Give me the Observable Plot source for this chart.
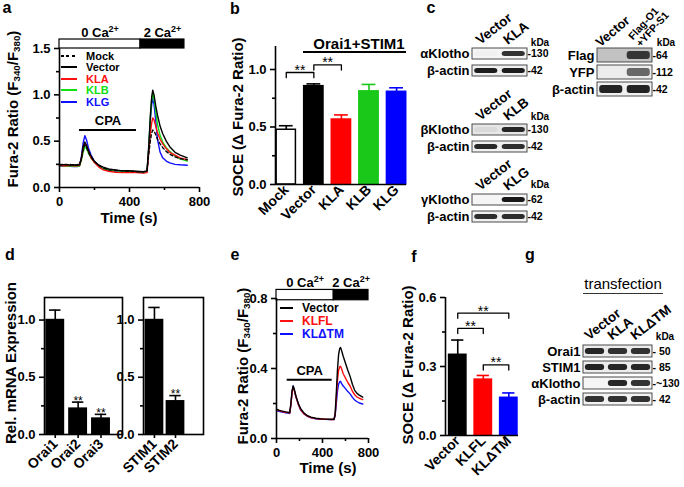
<!DOCTYPE html>
<html>
<head>
<meta charset="utf-8">
<script src="https://cdn.jsdelivr.net/npm/d3@7"></script>
<script src="https://cdn.jsdelivr.net/npm/@observablehq/plot@0.6"></script>
<style>
html,body{margin:0;padding:0;background:#fff;}
#root{position:relative;width:684px;height:487px;overflow:hidden;background:#fff;font-family:"Liberation Sans",Arial,Helvetica,sans-serif;color:#000;}
#root sub{font-size:65%;vertical-align:-0.3em;line-height:0;}
#root sup{font-size:65%;vertical-align:0.55em;line-height:0;}
</style>
</head>
<body>
<div id="root"></div>
<script>
// ---------------- DATA ----------------
// Panel a: Fura-2 traces
const timeA = [0,20,40,60,80,100,115,125,135,145,155,165,180,200,225,250,280,320,360,400,440,480,500,510,520,527,533,540,550,560,575,590,610,630,660,690,730];
const mockA   = [.24,.25,.245,.25,.24,.245,.25,.31,.41,.46,.43,.38,.33,.28,.24,.21,.19,.185,.18,.175,.17,.17,.18,.36,.52,.59,.62,.61,.57,.52,.47,.43,.39,.36,.33,.31,.30];
const vectorA = [.25,.245,.25,.24,.245,.24,.245,.32,.44,.49,.45,.40,.34,.28,.24,.22,.20,.19,.18,.18,.175,.17,.18,.45,.80,.98,1.05,1.0,.88,.78,.66,.58,.50,.44,.38,.35,.32];
const klaA    = [.24,.235,.235,.24,.235,.235,.24,.31,.42,.48,.45,.39,.32,.27,.22,.19,.175,.165,.16,.16,.16,.155,.16,.38,.60,.70,.75,.73,.66,.59,.52,.47,.42,.38,.35,.32,.30];
const klbA    = [.235,.235,.23,.235,.23,.23,.235,.29,.38,.44,.42,.37,.32,.27,.23,.20,.19,.18,.175,.17,.17,.165,.17,.42,.78,.95,1.01,.96,.82,.68,.56,.49,.43,.39,.34,.31,.285];
const klgA    = [.235,.23,.23,.23,.225,.225,.235,.33,.48,.56,.51,.43,.35,.28,.23,.20,.185,.175,.17,.165,.165,.16,.17,.42,.75,.90,.96,.90,.72,.52,.38,.32,.285,.265,.25,.245,.24];
const seriesA = ["Mock","Vector","KLA","KLB","KLG"];
const colorsA = ["#000000","#000000","#ff1010","#10e010","#1010ff"];
const caBarA = [{label:"0 Ca^2+", start:0, end:463, fill:"#ffffff"},{label:"2 Ca^2+", start:463, end:714, fill:"#000000"}];
const cpaA = [{label:"CPA", start:114, end:440, level:0.62}];

// Panel b: SOCE
const catsB = ["Mock","Vector","KLA","KLB","KLG"];
const meansB = [0.476,0.855,0.565,0.81,0.806];
const errsB = [0.035,0.02,0.04,0.06,0.035];
const fillsB = ["#ffffff","#000000","#ff0000","#19c819","#0000ff"];
const strokesB = ["#000000","#000000","#ff0000","#19c819","#0000ff"];
const bracketsB = [{a:0,b:1,y:0.974},{a:1,b:2,y:1.04}];

// Panel c: western blots (band intensity per lane)
const blotC1 = {lanes:["Vector","KLA"], rows:[{label:"αKlotho", marker:"-130", bg:"#f5f5f5", bands:[0.02,0.85]},{label:"β-actin", marker:"-42", bg:"#f0f0f0", bands:[0.95,0.95]}]};
const blotC2 = {lanes:["Vector","KLB"], rows:[{label:"βKlotho", marker:"-130", bg:"#e6e6e6", bands:[0.06,0.9]},{label:"β-actin", marker:"-42", bg:"#f0f0f0", bands:[0.9,0.88]}]};
const blotC3 = {lanes:["Vector","KLG"], rows:[{label:"γKlotho", marker:"-62", bg:"#f5f5f5", bands:[0,0.97]},{label:"β-actin", marker:"-42", bg:"#f0f0f0", bands:[0.88,0.88]}]};
const blotC4 = {lanes:["Vector","Flag-O1\n+YFP-S1"], rows:[{label:"Flag", marker:"-64", bg:"#c2c2c2", bands:[0,0.8]},{label:"YFP", marker:"-112", bg:"#ececec", bands:[0,0.6]},{label:"β-actin", marker:"-42", bg:"#f0f0f0", bands:[0.92,0.92]}]};

// Panel d: mRNA
const catsD1 = ["Orai1","Orai2","Orai3"];
const meansD1 = [1.0,0.226,0.139];
const errsD1 = [0.087,0.057,0.037];
const catsD2 = ["STIM1","STIM2"];
const meansD2 = [1.0,0.29];
const errsD2 = [0.11,0.05];
const starsD1 = ["","**","**"];
const starsD2 = ["","**"];

// Panel e: traces
const timeE = [0,20,40,60,80,100,115,125,135,145,155,170,190,210,240,270,300,340,380,420,460,500,510,520,530,540,550,557,565,580,600,620,640,660,680,700,720,750];
const vectorE = [.168,.162,.158,.155,.152,.150,.148,.20,.27,.30,.28,.24,.20,.17,.145,.13,.122,.116,.113,.111,.110,.110,.14,.26,.39,.48,.515,.52,.505,.47,.43,.39,.355,.31,.275,.258,.248,.236];
const klflE   = [.165,.16,.156,.153,.15,.148,.146,.19,.26,.295,.275,.235,.195,.165,.14,.127,.12,.114,.111,.11,.109,.109,.135,.23,.33,.39,.41,.413,.40,.37,.345,.32,.30,.27,.25,.237,.23,.222];
const kltmE   = [.16,.155,.152,.15,.147,.145,.143,.19,.265,.30,.275,.235,.195,.163,.14,.126,.118,.113,.11,.109,.108,.108,.13,.20,.27,.31,.325,.327,.315,.30,.285,.268,.255,.235,.22,.21,.203,.197];
const seriesE = ["Vector","KLFL","KLΔTM"];
const colorsE = ["#000000","#ff1010","#1010ff"];
const caBarE = [{label:"0 Ca^2+", start:0, end:498, fill:"#ffffff"},{label:"2 Ca^2+", start:498, end:800, fill:"#000000"}];
const cpaE = [{label:"CPA", start:93, end:484, level:0.336}];

// Panel f: SOCE
const catsF = ["Vector","KLFL","KLΔTM"];
const meansF = [0.351,0.243,0.164];
const errsF = [0.064,0.018,0.021];
const fillsF = ["#000000","#ff0000","#0000ff"];
const bracketsF = [{a:0,b:2,y:0.532},{a:0,b:1,y:0.466},{a:1,b:2,y:0.307}];

// Panel g: blot
const blotG = {lanes:["Vector","KLA","KLΔTM"], rows:[{label:"Orai1", marker:"- 50", bg:"#ececec", bands:[0.9,0.85,0.85]},{label:"STIM1", marker:"- 85", bg:"#ececec", bands:[0.92,0.9,0.9]},{label:"αKlotho", marker:"-~130", bg:"#f5f5f5", bands:[0,0.9,0.85]},{label:"β-actin", marker:"- 42", bg:"#f2f2f2", bands:[0.85,0.85,0.85]}]};

// ---------------- HELPERS ----------------
const root = document.getElementById("root");
const FONT = '"Liberation Sans", Arial, Helvetica, sans-serif';
const NS = "http://www.w3.org/2000/svg";
function css(fs) { return {fontFamily: FONT, fontSize: fs + "px", fontWeight: "bold", background: "transparent", overflow: "visible", color: "#000"}; }
function put(node, left, top) { node.style.position = "absolute"; node.style.left = left + "px"; node.style.top = top + "px"; root.appendChild(node); return node; }
function html(str, style) { const d = document.createElement("div"); d.innerHTML = str; d.style.cssText = "position:absolute;white-space:nowrap;font-weight:bold;line-height:1;" + style; root.appendChild(d); return d; }
function clab(str, cx, cy, fs, extra = "") { return html(str, `left:${cx}px;top:${cy}px;font-size:${fs}px;transform:translate(-50%,-50%);` + extra); }
function ylab(str, cx, cy, fs) { return html(str, `left:${cx}px;top:${cy}px;font-size:${fs}px;transform:translate(-50%,-50%) rotate(-90deg);`); }
function supify(svg) {
  svg.querySelectorAll("text").forEach(t => {
    if (t.childElementCount === 0 && t.textContent.includes("^")) {
      const [a, b] = t.textContent.split("^");
      t.textContent = a;
      const s = document.createElementNS(NS, "tspan");
      s.setAttribute("dy", "-5"); s.style.fontSize = "9px"; s.textContent = b;
      t.appendChild(s);
    }
  });
}
const fmt1 = d3.format(".1f");

function tracePlot({left, top, width, height, mL, mR, mT, mB, yMax, time, series, values, colors, dashed, caBar, caY1, caY2, caTextY, cpa, yTicks, yMinor, drawOrder}) {
  const tidy = series.flatMap((s, k) => time.map((t, i) => ({s, t, v: values[k][i]})));
  const lineMarks = drawOrder.map(s => Plot.line(tidy.filter(d => d.s === s), {x: "t", y: "v", stroke: colors[series.indexOf(s)], strokeWidth: 1.4, strokeDasharray: dashed.includes(s) ? "3,2.5" : null}));
  const svg = Plot.plot({
    width, height, marginLeft: mL, marginRight: mR, marginTop: mT, marginBottom: mB,
    x: {domain: [0, 800]}, y: {domain: [0, yMax]},
    color: {type: "identity"},
    style: css(13),
    marks: [
      Plot.rect(caBar, {x1: "start", x2: "end", y1: caY1, y2: caY2, fill: "fill", stroke: "#000", strokeWidth: 1.2}),
      Plot.text(caBar, {x: d => (d.start + d.end) / 2, y: caTextY, text: "label", fontSize: 13}),
      Plot.ruleY(cpa, {y: "level", x1: "start", x2: "end", strokeWidth: 2}),
      Plot.text(cpa, {x: d => (d.start + d.end) / 2, y: "level", text: "label", dy: -9, fontSize: 13}),
      ...lineMarks,
      Plot.ruleX([0], {strokeWidth: 1.6}),
      Plot.ruleY([0], {strokeWidth: 1.6}),
      Plot.axisY({ticks: yTicks, tickFormat: fmt1, tickSize: 5, strokeWidth: 1.6, label: null, fontSize: 13}),
      Plot.axisY({ticks: yMinor, tickFormat: () => "", tickSize: 3, strokeWidth: 1.6, label: null}),
      Plot.axisX({ticks: [0, 400, 800], tickSize: 5, strokeWidth: 1.6, label: null, fontSize: 13}),
      Plot.axisX({ticks: [200, 600], tickFormat: () => "", tickSize: 3, strokeWidth: 1.6, label: null})
    ]
  });
  supify(svg);
  put(svg, left, top);
}

function barChart({left, top, width, height, mL, mR, mT, mB, xDomain, yMax, cats, means, errs, fills, strokes, half, capHalf, yTicks, yMinor, brackets = [], stars = null, frame = false, xTickSize = 0, baseline = true}) {
  const data = cats.map((c, i) => ({i, c, m: means[i], e: errs[i], f: fills[i], s: strokes[i], star: stars ? stars[i] : ""}));
  const pts = brackets.flatMap((b, k) => [
    {k, x: b.a, y: b.y - 0.045 * yMax / 1.2}, {k, x: b.a, y: b.y}, {k, x: b.b, y: b.y}, {k, x: b.b, y: b.y - 0.045 * yMax / 1.2}]);
  const marks = [
    Plot.rectY(data, {x1: d => d.i - half, x2: d => d.i + half, y1: 0, y2: "m", fill: "f", stroke: "s", strokeWidth: 1.5}),
    Plot.ruleX(data, {x: "i", y1: "m", y2: d => d.m + d.e, stroke: "s", strokeWidth: 1.6}),
    Plot.ruleY(data, {y: d => d.m + d.e, x1: d => d.i - capHalf, x2: d => d.i + capHalf, stroke: "s", strokeWidth: 1.6}),
    Plot.line(pts, {x: "x", y: "y", z: "k", stroke: "#000", strokeWidth: 1.3}),
    Plot.text(brackets, {x: d => (d.a + d.b) / 2, y: "y", text: () => "**", dy: -2, fontSize: 14, fontWeight: "normal"}),
    Plot.text(data.filter(d => d.star), {x: "i", y: d => d.m + d.e, text: "star", dy: -1, fontSize: 12, fontWeight: "normal"}),
    Plot.axisY({ticks: yTicks, tickFormat: fmt1, tickSize: 5, strokeWidth: 1.6, label: null, fontSize: 13}),
    Plot.axisY({ticks: yMinor, tickFormat: () => "", tickSize: 3, strokeWidth: 1.6, label: null}),
    Plot.axisX({ticks: cats.map((c, i) => i), tickFormat: i => cats[i], tickRotate: -45, textAnchor: "end", tickSize: xTickSize, tickPadding: 3, strokeWidth: 1.6, label: null, fontSize: 14})
  ];
  if (frame) marks.push(Plot.frame({strokeWidth: 1.6}));
  else { marks.push(Plot.ruleX([xDomain[0]], {strokeWidth: 1.6})); if (baseline) marks.push(Plot.ruleY([0], {strokeWidth: 1.6})); }
  const svg = Plot.plot({
    width, height, marginLeft: mL, marginRight: mR, marginTop: mT, marginBottom: mB,
    x: {domain: xDomain}, y: {domain: [0, yMax]},
    color: {type: "identity"},
    style: css(13),
    marks
  });
  put(svg, left, top);
}

let blurCount = 0;
function drawBlot({left, top, width, height, mL, mR, mT, mB, blot, pad, laneFont = [13.5], laneDx = [-6], laneDy = -9, laneRotate = [-38]}) {
  const {lanes, rows} = blot;
  const n = lanes.length;
  const pick = (arr, i) => arr[Math.min(i, arr.length - 1)];
  const bandData = rows.flatMap(r => r.bands.map((v, i) => ({row: r.label, lane: i, v})));
  const laneMarks = lanes.map((l, i) => Plot.text([l], {x: () => i + 0.5, y: () => rows[0].label, text: d => d, rotate: pick(laneRotate, i), textAnchor: "start", lineAnchor: "bottom", dx: pick(laneDx, i), dy: laneDy, fontSize: pick(laneFont, i)}));
  const svg = Plot.plot({
    width, height, marginLeft: mL, marginRight: mR, marginTop: mT, marginBottom: mB,
    x: {domain: [0, n], axis: null},
    y: {type: "band", domain: rows.map(r => r.label), paddingInner: pad, paddingOuter: 0, axis: null},
    color: {type: "identity"},
    style: css(13),
    marks: [
      Plot.barX(rows, {x1: 0, x2: n, y: "label", fill: "bg", stroke: "#4a4a4a", strokeWidth: 1}),
      Plot.barX(bandData, {x1: d => d.lane + 0.08, x2: d => d.lane + 0.92, y: "row", fill: "#111", fillOpacity: "v", insetTop: 3, insetBottom: 3, rx: 3, ariaLabel: "band"}),
      Plot.text(rows, {x: 0, y: "label", text: "label", textAnchor: "end", dx: -3, fontSize: 13}),
      Plot.text(rows, {x: n, y: "label", text: "marker", textAnchor: "start", dx: 0, fontSize: 10.5}),
      ...laneMarks
    ]
  });
  const id = "blur" + (++blurCount);
  const defs = document.createElementNS(NS, "defs");
  defs.innerHTML = `<filter id="${id}" x="-20%" y="-60%" width="140%" height="220%"><feGaussianBlur stdDeviation="0.9"/></filter>`;
  svg.insertBefore(defs, svg.firstChild);
  const g = svg.querySelector('g[aria-label="band"]');
  if (g) g.setAttribute("filter", `url(#${id})`);
  put(svg, left, top);
}

function legend(entries, x0, x1, tx, ys, fs) {
  entries.forEach((e, i) => {
    const line = document.createElement("div");
    const bg = e.dash ? `repeating-linear-gradient(to right, ${e.color} 0 3px, transparent 3px 5.5px)` : e.color;
    line.style.cssText = `position:absolute;left:${x0}px;top:${ys[i] - 1}px;width:${x1 - x0}px;height:2px;background:${bg};`;
    root.appendChild(line);
    html(e.label, `left:${tx}px;top:${ys[i]}px;font-size:${fs}px;color:${e.color};transform:translateY(-50%);`);
  });
}

// ---------------- PANELS ----------------
// a
tracePlot({left: 0, top: 0, width: 240, height: 235, mL: 59, mR: 41, mT: 48, mB: 48, yMax: 1.5,
  time: timeA, series: seriesA, values: [mockA, vectorA, klaA, klbA, klgA], colors: colorsA, dashed: ["Mock"],
  caBar: caBarA, caY1: 1.5, caY2: 1.597, caTextY: 1.665, cpa: cpaA, yTicks: [0, 0.5, 1, 1.5], yMinor: [0.25, 0.75, 1.25],
  drawOrder: ["KLG", "KLB", "KLA", "Mock", "Vector"]});
legend(seriesA.map((s, i) => ({label: s, color: colorsA[i], dash: s === "Mock"})), 61, 77, 86, [55.7, 67.3, 78.5, 90, 101.7], 11);

// b
barChart({left: 230, top: 0, width: 185, height: 240, mL: 45, mR: 9, mT: 46, mB: 56, xDomain: [-0.39, 4.36], yMax: 1.2,
  cats: catsB, means: meansB, errs: errsB, fills: fillsB, strokes: strokesB, half: 0.35, capHalf: 0.25,
  yTicks: [0, 0.5, 1.0], yMinor: [0.25, 0.75], brackets: bracketsB});

// c blots
drawBlot({left: 420, top: 0, width: 150, height: 82, mL: 52, mR: 43, mT: 47, mB: 6, blot: blotC1, pad: 0.37});
drawBlot({left: 420, top: 76, width: 150, height: 82, mL: 52, mR: 43, mT: 47, mB: 6, blot: blotC2, pad: 0.37});
drawBlot({left: 420, top: 146, width: 150, height: 82, mL: 52, mR: 43, mT: 47, mB: 6, blot: blotC3, pad: 0.37});
drawBlot({left: 545, top: 0, width: 139, height: 102, mL: 52, mR: 32, mT: 47, mB: 6, blot: blotC4, pad: 0.2,
  laneFont: [13, 10.5], laneRotate: [-40, -48], laneDx: [-11, 2], laneDy: -8});

// d
barChart({left: 0, top: 240, width: 125, height: 247, mL: 44, mR: 3, mT: 57, mB: 53, xDomain: [-0.47, 2.94], yMax: 1.197,
  cats: catsD1, means: meansD1, errs: errsD1, fills: ["#000", "#000", "#000"], strokes: ["#000", "#000", "#000"], half: 0.38, capHalf: 0.25,
  yTicks: [0, 0.5, 1.0], yMinor: [0.25, 0.75], stars: starsD1, frame: true, xTickSize: 4});
barChart({left: 118, top: 240, width: 88, height: 247, mL: 25, mR: 3, mT: 57, mB: 53, xDomain: [-0.52, 2.33], yMax: 1.197,
  cats: catsD2, means: meansD2, errs: errsD2, fills: ["#000", "#000"], strokes: ["#000", "#000"], half: 0.41, capHalf: 0.27,
  yTicks: [0, 0.5, 1.0], yMinor: [0.25, 0.75], stars: starsD2, frame: true, xTickSize: 4});

// e
tracePlot({left: 236, top: 240, width: 150, height: 247, mL: 40, mR: 18, mT: 58, mB: 49, yMax: 0.8,
  time: timeE, series: seriesE, values: [vectorE, klflE, kltmE], colors: colorsE, dashed: [],
  caBar: caBarE, caY1: 0.79, caY2: 0.849, caTextY: 0.887, cpa: cpaE, yTicks: [0, 0.4, 0.8], yMinor: [0.2, 0.6],
  drawOrder: ["KLΔTM", "KLFL", "Vector"]});
legend(seriesE.map((s, i) => ({label: s, color: colorsE[i]})), 280, 293, 302, [308.3, 321.3, 334.3], 12);

// f
barChart({left: 380, top: 240, width: 150, height: 247, mL: 65, mR: 12, mT: 57, mB: 52, xDomain: [-0.48, 2.38], yMax: 0.6,
  cats: catsF, means: meansF, errs: errsF, fills: fillsF, strokes: fillsF, half: 0.34, capHalf: 0.24,
  yTicks: [0, 0.3, 0.6], yMinor: [0.15, 0.45], brackets: bracketsF});

// g blot
drawBlot({left: 520, top: 270, width: 164, height: 140, mL: 63, mR: 32, mT: 75, mB: 5, blot: blotG, pad: 0.27, laneDy: -11});

// ---------------- TEXT ANNOTATIONS ----------------
const letters = [["a", 7, 8], ["b", 235, 9], ["c", 431, 8], ["d", 10, 255], ["e", 235, 255], ["f", 414, 257], ["g", 530, 255]];
letters.forEach(([t, x, y]) => clab(t, x, y, 16));
ylab("Fura-2 Ratio (F<sub>340</sub>/F<sub>380</sub>)", 12, 109, 15);
clab("Time (s)", 129, 217, 15);
ylab("SOCE (Δ Fura-2 Ratio)", 237, 117, 15);
clab("Orai1+STIM1", 359, 43, 15);
html("", "left:303px;top:51px;width:103px;height:2px;background:#000;");
ylab("Rel. mRNA Expression", 10, 363, 15);
ylab("Fura-2 Ratio (F<sub>340</sub>/F<sub>380</sub>)", 242, 366, 15);
clab("Time (s)", 328, 467, 15);
ylab("SOCE (Δ Fura-2 Ratio)", 407, 365, 15);
clab("transfection", 623, 283, 15, "font-weight:normal;");
html("", "left:583px;top:293px;width:80px;height:1px;background:#333;");
[[540, 43], [540, 117], [540, 185], [666, 43], [665, 337]].forEach(([x, y]) => clab("kDa", x, y, 10));
</script>
</body>
</html>
